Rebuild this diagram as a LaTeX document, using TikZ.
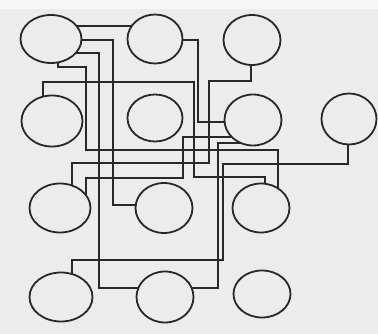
\documentclass[tikz,border=0pt]{standalone}
\usetikzlibrary{shapes.geometric,calc}
\definecolor{paper}{RGB}{236,236,236}
\definecolor{ink}{RGB}{40,40,40}
\pgfdeclarelayer{bg}
\pgfsetlayers{bg,main}
\tikzset{
  cell/.style={draw=ink, fill=paper, ellipse, inner sep=0pt, line width=1.8pt},
  wire/.style={draw=ink, line width=1.7pt, line join=miter}
}
\begin{document}
\begin{tikzpicture}[x=1pt,y=-1pt]
\useasboundingbox (0,0) rectangle (378,334);
% cells
\node[cell, minimum width=61pt, minimum height=48pt] (E11) at (51,39) {};
\node[cell, minimum width=55pt, minimum height=49pt] (E12) at (155,39) {};
\node[cell, minimum width=57pt, minimum height=50pt] (E13) at (252,40) {};
\node[cell, minimum width=61pt, minimum height=51pt] (E21) at (52,121) {};
\node[cell, minimum width=55pt, minimum height=47pt] (E22) at (155,118) {};
\node[cell, minimum width=57pt, minimum height=51pt] (E23) at (253,120) {};
\node[cell, minimum width=55pt, minimum height=51pt] (E24) at (349,119) {};
\node[cell, minimum width=61pt, minimum height=49pt] (E31) at (60,208) {};
\node[cell, minimum width=57pt, minimum height=50pt] (E32) at (164,208) {};
\node[cell, minimum width=57pt, minimum height=49pt] (E33) at (261,208) {};
\node[cell, minimum width=63pt, minimum height=49pt] (E41) at (61,297) {};
\node[cell, minimum width=57pt, minimum height=51pt] (E42) at (165,297) {};
\node[cell, minimum width=57pt, minimum height=47pt] (E43) at (262,294) {};
% background and wires (behind the cells)
\begin{pgfonlayer}{bg}
\fill[paper] (0,0) rectangle (378,334);
\fill[white!60!paper] (0,0) rectangle (378,9);
\draw[wire] ($(E11)+(0,-13)$) -- ($(E12)+(0,-13)$);
\draw[wire] ($(E11)+(0,1)$) -| (113,205) -- ($(E32)+(0,-3)$);
\draw[wire] ($(E11)+(0,14)$) -| (99,288) -- ($(E42)+(0,-9)$);
\draw[wire] ($(E11)+(7,0)$) |- (86,67) -- (86,150) -| ($(E33)+(17,0)$);
\draw[wire] ($(E12)+(0,1)$) -| (198,122) -- ($(E23)+(0,2)$);
\draw[wire] ($(E13)+(-1,0)$) |- (209,81) -- (209,163) -| ($(E31)+(12,0)$);
\draw[wire] ($(E21)+(-9,0)$) |- (194,82) -- (194,177) -| ($(E33)+(4,0)$);
\draw[wire] ($(E23)+(0,17)$) -| (183,178) -| ($(E31)+(26,0)$);
\draw[wire] ($(E23)+(0,23)$) -| (218,288) -- ($(E42)+(0,-9)$);
\draw[wire] ($(E24)+(-1,0)$) |- (223,164) -- (223,260) -| ($(E41)+(11,0)$);
\end{pgfonlayer}
\end{tikzpicture}
\end{document}
